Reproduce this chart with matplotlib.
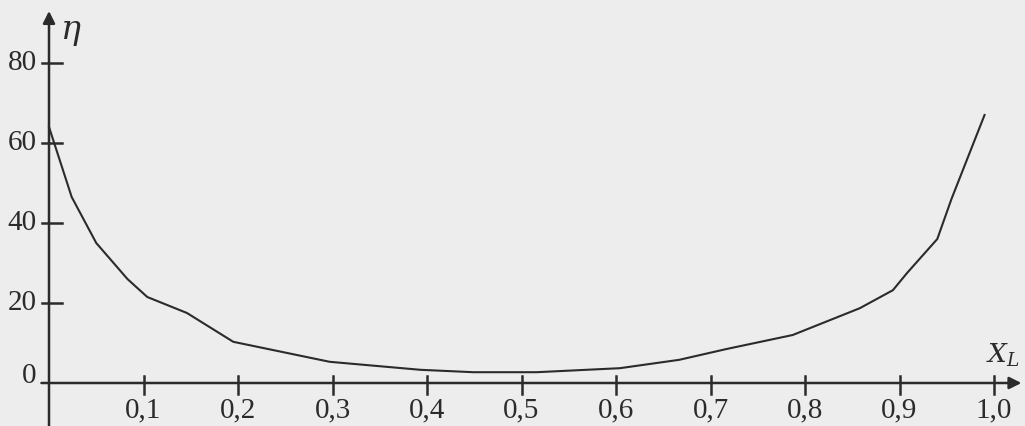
import matplotlib.pyplot as plt

# curve: efficiency eta vs liquid fraction X_L
x_l = [0.0, 0.024, 0.05, 0.083, 0.104, 0.146, 0.195, 0.297, 0.393, 0.449,
       0.516, 0.604, 0.667, 0.717, 0.787, 0.858, 0.893, 0.908, 0.94, 0.955, 0.99]
eta = [64, 46.5, 35, 26, 21.5, 17.5, 10.3, 5.3, 3.3, 2.7,
       2.7, 3.7, 5.8, 8.5, 12, 18.7, 23.2, 27.5, 36, 46, 67]

x_ticks = [0.1, 0.2, 0.3, 0.4, 0.5, 0.6, 0.7, 0.8, 0.9, 1.0]
x_labels = ["0,1", "0,2", "0,3", "0,4", "0,5", "0,6", "0,7", "0,8", "0,9", "1,0"]
y_ticks = [20, 40, 60, 80]

ink = "#2b2b2b"
font = ["Liberation Serif", "DejaVu Serif"]

fig = plt.figure(figsize=(10.25, 4.26), dpi=100, facecolor="#ededed")
ax = fig.add_axes([0, 0, 1, 1])
ax.set_facecolor("#ededed")
ax.set_xlim(-49 / 945, 976 / 945)
ax.set_ylim(-43 / 4, 383 / 4)
ax.axis("off")

# axes with arrow heads
arrow = dict(arrowstyle="-|>", color=ink, lw=1.8, mutation_scale=18,
             shrinkA=0, shrinkB=0)
ax.annotate("", xy=(1.029, 0), xytext=(-0.008, 0), arrowprops=arrow)
ax.annotate("", xy=(0, 93), xytext=(0, -11), arrowprops=arrow)

# ticks crossing the axes
for t, lab in zip(x_ticks, x_labels):
    ax.plot([t, t], [-2.8, 1.8], color=ink, lw=1.8)
    ax.text(t, -3.6, lab, ha="center", va="top", fontsize=21,
            family=font, color=ink)
for t in y_ticks:
    ax.plot([-0.007, 0.014], [t, t], color=ink, lw=1.8)
    ax.text(-0.013, t, str(t), ha="right", va="center", fontsize=21,
            family=font, color=ink)
ax.text(-0.013, 1.8, "0", ha="right", va="center", fontsize=21,
        family=font, color=ink)

ax.text(0.012, 88, r"$\eta$", ha="left", va="center", fontsize=24, color=ink,
        math_fontfamily="dejavuserif")
ax.text(1.027, 7, r"$X_L$", ha="right", va="center", fontsize=19, color=ink,
        math_fontfamily="dejavuserif")

ax.plot(x_l, eta, color=ink, lw=1.5)

fig.savefig("out.png", dpi=100, facecolor=fig.get_facecolor())
